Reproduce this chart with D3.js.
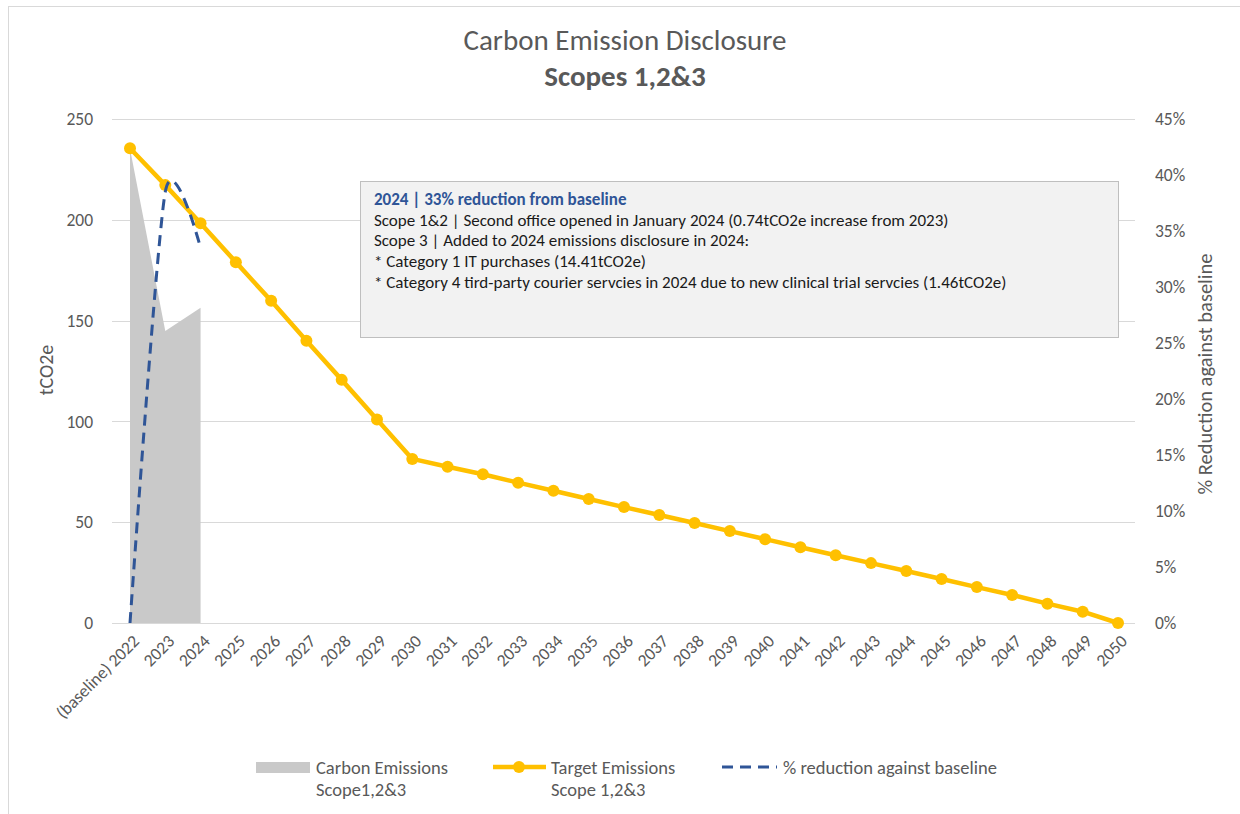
<!DOCTYPE html>
<html>
<head>
<meta charset="utf-8">
<script src="https://cdn.jsdelivr.net/npm/d3@7"></script>
<style>
body { margin: 0; background: #fff; }
svg text { font-family: Calibri, Carlito, Lato, sans-serif; fill: #595959; }
</style>
</head>
<body>
<div id="chart"></div>
<script>
// Categories
const years = ["(baseline) 2022"].concat(d3.range(2023, 2051).map(String));

// Series values
const carbonEmissions = [235.3, 144.8, 156.4];
const targetEmissions = [235.5, 217.2, 198.3, 179.0, 159.8, 140.0, 120.6, 101.0, 81.4,
    77.5, 73.8, 69.6, 65.6, 61.5, 57.5, 53.6, 49.6, 45.6, 41.6, 37.6, 33.6,
    29.7, 25.8, 21.8, 17.8, 13.9, 9.6, 5.6, 0];
const reduction = [0, 0.385, 0.335];

// Tick labels
const leftTicks = [0, 50, 100, 150, 200, 250];
const rightTicks = [0, 0.05, 0.10, 0.15, 0.20, 0.25, 0.30, 0.35, 0.40, 0.45];

const noteTitle = "2024 | 33% reduction from baseline";
const noteLines = [
    "Scope 1&2 | Second office opened in January 2024 (0.74tCO2e increase from 2023)",
    "Scope 3 | Added to 2024 emissions disclosure in 2024:",
    "* Category 1 IT purchases (14.41tCO2e)",
    "* Category 4 tird-party courier servcies in 2024 due to new clinical trial servcies (1.46tCO2e)"
];

const W = 1240, H = 814;
const plot = {left: 112, right: 1135, top: 119, bottom: 623};
const axisFont = "17.5px";
const legendFont = "18.5px";

const svg = d3.select("#chart")
    .append("svg")
    .attr("width", W)
    .attr("height", H);

// chart frame
svg.append("rect")
    .attr("x", 8.5).attr("y", 6.5)
    .attr("width", W).attr("height", H)
    .attr("fill", "none")
    .attr("stroke", "#d9d9d9");

// Scales
const x = d3.scalePoint().domain(years).range([130, 1118]);
const y = d3.scaleLinear().domain([0, 250]).range([plot.bottom, plot.top]);
const y2 = d3.scaleLinear().domain([0, 0.45]).range([plot.bottom, plot.top]);

// Title
svg.append("text")
    .attr("x", 625).attr("y", 50)
    .attr("text-anchor", "middle")
    .style("font-size", "29px")
    .text("Carbon Emission Disclosure");
svg.append("text")
    .attr("x", 625).attr("y", 86)
    .attr("text-anchor", "middle")
    .style("font-size", "29px")
    .style("font-weight", "bold")
    .text("Scopes 1,2&3");

// Grid lines
svg.selectAll("line.grid")
    .data(leftTicks)
    .enter()
    .append("line")
    .attr("class", "grid")
    .attr("x1", plot.left)
    .attr("x2", plot.right)
    .attr("y1", d => Math.round(y(d)) + 0.5)
    .attr("y2", d => Math.round(y(d)) + 0.5)
    .attr("stroke", "#d9d9d9")
    .attr("stroke-width", 1);

// Left axis
const leftAxis = svg.append("g")
    .attr("transform", `translate(${plot.left},0)`)
    .call(d3.axisLeft(y).tickValues(leftTicks).tickSize(0).tickPadding(19));
leftAxis.select(".domain").remove();
leftAxis.selectAll("text").style("font-size", axisFont).attr("fill", "#595959");

// Right axis
const rightAxis = svg.append("g")
    .attr("transform", `translate(${plot.right},0)`)
    .call(d3.axisRight(y2).tickValues(rightTicks).tickSize(0).tickPadding(20)
        .tickFormat(d3.format(".0%")));
rightAxis.select(".domain").remove();
rightAxis.selectAll("text").style("font-size", axisFont).attr("fill", "#595959");

// X axis labels
svg.append("g")
    .selectAll("text")
    .data(years)
    .enter()
    .append("text")
    .attr("transform", d => `translate(${x(d) + 6},${plot.bottom + 15}) rotate(-45)`)
    .attr("text-anchor", "end")
    .attr("dy", "0.35em")
    .style("font-size", axisFont)
    .text(d => d);

// Axis titles
svg.append("text")
    .attr("transform", "translate(53,370) rotate(-90)")
    .attr("text-anchor", "middle")
    .style("font-size", "20px")
    .text("tCO2e");
svg.append("text")
    .attr("transform", "translate(1212,374) rotate(-90)")
    .attr("text-anchor", "middle")
    .style("font-size", "20.5px")
    .text("% Reduction against baseline");

// Carbon emissions area
const area = d3.area()
    .x((d, i) => x(years[i]))
    .y0(y(0))
    .y1(d => y(d));
svg.append("path")
    .datum(carbonEmissions)
    .attr("fill", "#c9c9c9")
    .attr("d", area);

// Target emissions line
const line = d3.line()
    .x((d, i) => x(years[i]))
    .y(d => y(d));
svg.append("path")
    .datum(targetEmissions)
    .attr("fill", "none")
    .attr("stroke", "#ffc000")
    .attr("stroke-width", 4.5)
    .attr("stroke-linejoin", "round")
    .attr("d", line);
svg.selectAll("circle.target")
    .data(targetEmissions)
    .enter()
    .append("circle")
    .attr("class", "target")
    .attr("cx", (d, i) => x(years[i]))
    .attr("cy", d => y(d))
    .attr("r", 6)
    .attr("fill", "#ffc000");

// % reduction (smoothed, dashed)
const reductionLine = d3.line()
    .curve(d3.curveCardinal.tension(0.3))
    .x((d, i) => x(years[i]))
    .y(d => y2(d));
svg.append("path")
    .datum(reduction)
    .attr("fill", "none")
    .attr("stroke", "#2f5597")
    .attr("stroke-width", 3)
    .attr("stroke-dasharray", "11,7")
    .attr("d", reductionLine);

// Annotation box
const note = svg.append("g").attr("transform", "translate(360,181)");
note.append("rect")
    .attr("x", 0.5).attr("y", 0.5)
    .attr("width", 758).attr("height", 156)
    .attr("fill", "#f2f2f2")
    .attr("stroke", "#bfbfbf");
note.append("text")
    .attr("x", 14).attr("y", 24)
    .style("font-size", "17px")
    .style("font-weight", "bold")
    .style("fill", "#2f5597")
    .text(noteTitle);
note.selectAll("text.line")
    .data(noteLines)
    .enter()
    .append("text")
    .attr("class", "line")
    .attr("x", 14)
    .attr("y", (d, i) => 44.5 + i * 20.8)
    .style("font-size", "17px")
    .style("fill", "#1a1a1a")
    .text(d => d);

// Legend
const legend = svg.append("g");
legend.append("rect")
    .attr("x", 256).attr("y", 762)
    .attr("width", 54).attr("height", 11)
    .attr("fill", "#c9c9c9");
legend.append("text").attr("x", 316).attr("y", 774).style("font-size", legendFont).text("Carbon Emissions");
legend.append("text").attr("x", 316).attr("y", 796).style("font-size", legendFont).text("Scope1,2&3");

legend.append("line")
    .attr("x1", 493).attr("x2", 546).attr("y1", 767).attr("y2", 767)
    .attr("stroke", "#ffc000").attr("stroke-width", 4.5);
legend.append("circle")
    .attr("cx", 519).attr("cy", 767).attr("r", 6)
    .attr("fill", "#ffc000");
legend.append("text").attr("x", 551).attr("y", 774).style("font-size", legendFont).text("Target Emissions");
legend.append("text").attr("x", 551).attr("y", 796).style("font-size", legendFont).text("Scope 1,2&3");

legend.append("line")
    .attr("x1", 722).attr("x2", 777).attr("y1", 767).attr("y2", 767)
    .attr("stroke", "#2f5597").attr("stroke-width", 3)
    .attr("stroke-dasharray", "11,7");
legend.append("text").attr("x", 783).attr("y", 774).style("font-size", legendFont).text("% reduction against baseline");
</script>
</body>
</html>
